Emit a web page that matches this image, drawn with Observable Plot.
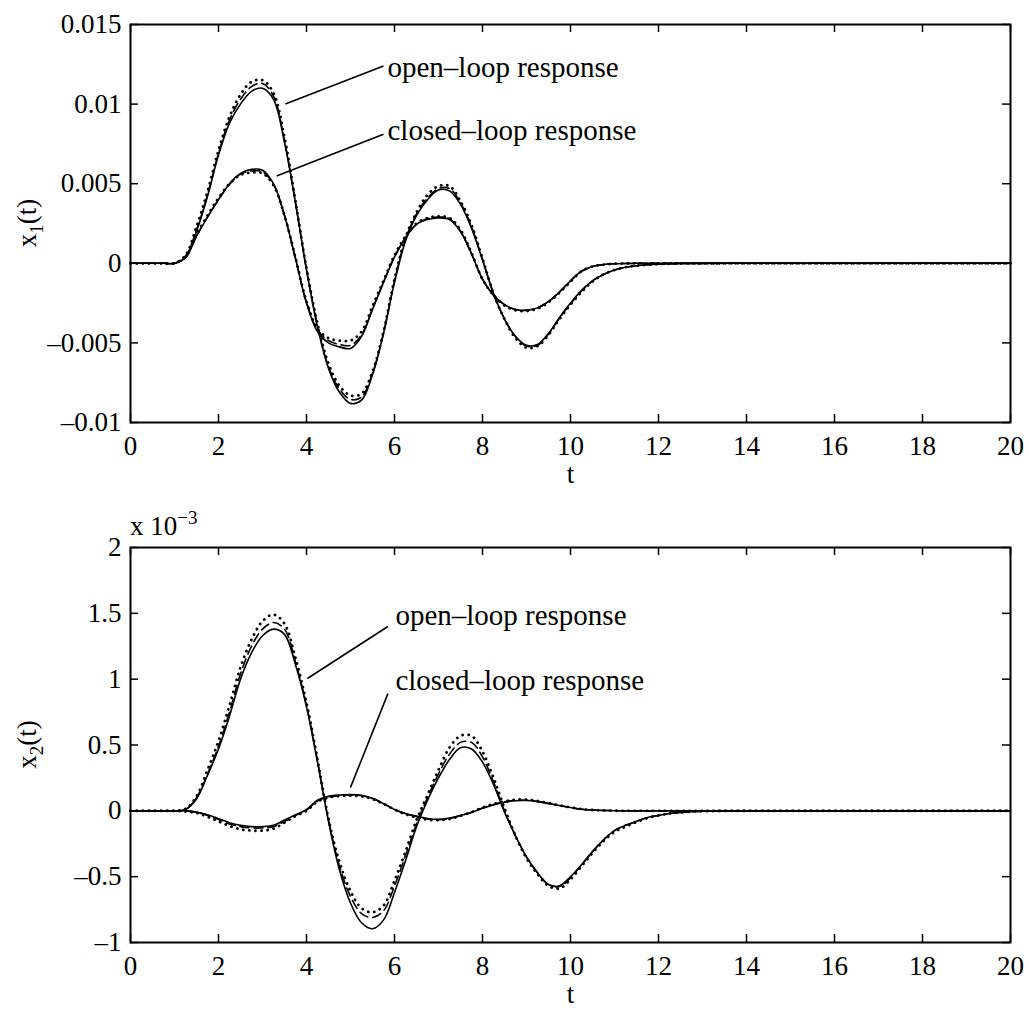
<!DOCTYPE html>
<html><head><meta charset="utf-8">
<script src="https://cdn.jsdelivr.net/npm/d3@7"></script>
<script src="https://cdn.jsdelivr.net/npm/@observablehq/plot@0.6"></script>
<style>
body{margin:0;background:#fff;}
#chart{width:1029px;height:1012px;position:relative;background:#fff;}
svg{display:block;}
</style></head><body><div id="chart"></div>
<script>
// ---------- DATA ----------
const tGrid = [0,0.25,0.5,0.75,1,1.25,1.5,1.75,2,2.25,
  2.5,2.75,3,3.25,3.5,3.75,4,4.25,4.5,4.75,
  5,5.25,5.5,5.75,6,6.25,6.5,6.75,7,7.25,
  7.5,7.75,8,8.25,8.5,8.75,9,9.25,9.5,9.75,
  10,10.25,10.5,10.75,11,11.25,11.5,11.75,12,12.25,
  12.5,12.75,13,14,15,16,17,18,19,20];

// x1(t), values in units of 1e-3
const x1OpenSolid = [0,0,0,0,0,0.4,2.0,4.2,6.8,8.8,
  10.0,10.8,11.0,10.3,7.6,3.8,-0.4,-4.0,-6.6,-8.1,
  -8.8,-8.6,-7.0,-4.4,-1.2,1.4,3.0,4.0,4.6,4.55,
  3.7,2.2,0.2,-1.9,-3.5,-4.6,-5.15,-5.1,-4.4,-3.4,
  -2.5,-1.7,-1.1,-0.7,-0.42,-0.25,-0.15,-0.09,-0.05,-0.03,
  -0.015,-0.008,-0.004,0,0,0,0,0,0,0];
const x1OpenDashed = [0,0,0,0,0,0.45,2.1,4.3,6.9,9.0,
  10.3,11.1,11.3,10.5,7.7,3.8,-0.4,-3.9,-6.5,-7.9,
  -8.55,-8.4,-6.9,-4.4,-1.1,1.5,3.1,4.1,4.7,4.7,
  3.8,2.3,0.25,-1.9,-3.5,-4.6,-5.2,-5.15,-4.45,-3.45,
  -2.55,-1.75,-1.1,-0.7,-0.42,-0.25,-0.15,-0.09,-0.05,-0.03,
  -0.015,-0.008,-0.004,0,0,0,0,0,0,0];
const x1OpenDotted = [0,0,0,0,0,0.5,2.3,4.5,7.1,9.2,
  10.6,11.4,11.5,10.7,7.9,3.9,-0.3,-3.8,-6.3,-7.7,
  -8.3,-8.2,-6.8,-4.3,-1.0,1.6,3.2,4.3,4.85,4.85,
  3.9,2.4,0.3,-1.9,-3.5,-4.7,-5.3,-5.2,-4.5,-3.5,
  -2.6,-1.8,-1.15,-0.7,-0.42,-0.25,-0.15,-0.09,-0.05,-0.03,
  -0.015,-0.008,-0.004,0,0,0,0,0,0,0];
const x1ClosedSolid = [0,0,0,0,0,0.35,1.7,2.9,4.0,5.0,
  5.65,5.9,5.85,5.0,3.0,0.3,-2.5,-4.3,-5.0,-5.25,
  -5.35,-4.6,-2.9,-1.2,0.4,1.6,2.45,2.75,2.85,2.75,
  2.0,0.6,-1.0,-2.0,-2.6,-2.9,-2.95,-2.8,-2.4,-1.8,
  -1.1,-0.5,-0.2,-0.08,-0.03,-0.01,0,0,0,0,
  0,0,0,0,0,0,0,0,0,0];
const x1ClosedDashed = [0,0,0,0,0,0.35,1.7,2.9,4.0,4.95,
  5.6,5.8,5.75,4.95,3.0,0.3,-2.45,-4.2,-4.85,-5.1,
  -5.15,-4.5,-2.85,-1.2,0.4,1.6,2.45,2.8,2.9,2.8,
  2.0,0.6,-1.0,-2.0,-2.6,-2.9,-2.95,-2.8,-2.4,-1.8,
  -1.1,-0.5,-0.2,-0.08,-0.03,-0.01,0,0,0,0,
  0,0,0,0,0,0,0,0,0,0];
const x1ClosedDotted = [0,0,0,0,0,0.4,1.8,3.0,4.1,5.0,
  5.55,5.7,5.65,4.9,3.0,0.35,-2.4,-4.1,-4.7,-4.85,
  -4.85,-4.3,-2.7,-1.1,0.5,1.7,2.5,2.85,2.95,2.85,
  2.1,0.65,-1.0,-2.0,-2.65,-2.95,-3.0,-2.85,-2.45,-1.85,
  -1.15,-0.5,-0.2,-0.08,-0.03,-0.01,0,0,0,0,
  0,0,0,0,0,0,0,0,0,0];

// x2(t), values in units of 1e-3 (axis shows "x 10^-3")
const x2OpenSolid = [0,0,0,0,0,0.01,0.09,0.27,0.47,0.72,
  1.0,1.2,1.33,1.38,1.34,1.11,0.79,0.37,-0.08,-0.45,
  -0.7,-0.85,-0.895,-0.83,-0.62,-0.38,-0.12,0.08,0.25,0.39,
  0.48,0.47,0.37,0.2,-0.01,-0.19,-0.35,-0.47,-0.56,-0.57,
  -0.5,-0.41,-0.31,-0.22,-0.15,-0.11,-0.08,-0.05,-0.035,-0.02,
  -0.012,-0.006,-0.003,0,0,0,0,0,0,0];
const x2OpenDashed = [0,0,0,0,0,0.01,0.1,0.28,0.49,0.75,
  1.04,1.25,1.38,1.43,1.38,1.13,0.8,0.38,-0.07,-0.42,
  -0.65,-0.78,-0.81,-0.76,-0.57,-0.34,-0.1,0.1,0.28,0.43,
  0.52,0.52,0.41,0.22,0.0,-0.19,-0.35,-0.47,-0.56,-0.575,
  -0.51,-0.41,-0.31,-0.22,-0.15,-0.11,-0.08,-0.05,-0.035,-0.02,
  -0.012,-0.006,-0.003,0,0,0,0,0,0,0];
const x2OpenDotted = [0,0,0,0,0,0.015,0.11,0.31,0.53,0.8,
  1.09,1.3,1.44,1.49,1.42,1.16,0.82,0.39,-0.06,-0.39,
  -0.61,-0.74,-0.77,-0.72,-0.53,-0.31,-0.07,0.12,0.31,0.48,
  0.57,0.57,0.45,0.25,0.02,-0.19,-0.36,-0.48,-0.57,-0.59,
  -0.52,-0.42,-0.32,-0.23,-0.16,-0.12,-0.085,-0.055,-0.035,-0.02,
  -0.012,-0.006,-0.003,0,0,0,0,0,0,0];
const x2ClosedSolid = [0,0,0,0,0,0,-0.01,-0.03,-0.06,-0.09,
  -0.11,-0.12,-0.12,-0.11,-0.07,-0.03,0.01,0.08,0.11,0.12,
  0.123,0.118,0.095,0.055,0.01,-0.02,-0.04,-0.058,-0.065,-0.055,
  -0.035,-0.012,0.02,0.045,0.065,0.077,0.078,0.07,0.055,0.04,
  0.025,0.012,0.006,0.003,0.001,0,0,0,0,0,
  0,0,0,0,0,0,0,0,0,0];
const x2ClosedDashed = [0,0,0,0,0,0,-0.01,-0.035,-0.065,-0.1,
  -0.12,-0.13,-0.13,-0.12,-0.08,-0.035,0.005,0.075,0.105,0.115,
  0.12,0.115,0.093,0.055,0.01,-0.022,-0.045,-0.062,-0.068,-0.058,
  -0.036,-0.01,0.022,0.048,0.068,0.08,0.08,0.072,0.057,0.04,
  0.025,0.012,0.006,0.003,0.001,0,0,0,0,0,
  0,0,0,0,0,0,0,0,0,0];
const x2ClosedDotted = [0,0,0,0,0,-0.005,-0.015,-0.045,-0.08,-0.115,
  -0.14,-0.15,-0.15,-0.135,-0.09,-0.04,0.0,0.07,0.1,0.112,
  0.115,0.11,0.09,0.052,0.01,-0.025,-0.05,-0.067,-0.072,-0.062,
  -0.038,-0.01,0.025,0.052,0.072,0.085,0.085,0.075,0.06,0.042,
  0.026,0.013,0.006,0.003,0.001,0,0,0,0,0,
  0,0,0,0,0,0,0,0,0,0];

const xTicks = [0,2,4,6,8,10,12,14,16,18,20];
const x1Ticks = [-10,-5,0,5,10,15];           // ×1e-3
const x1TickLabels = ["\u20130.01","\u20130.005","0","0.005","0.01","0.015"];
const x2Ticks = [-1,-0.5,0,0.5,1,1.5,2];       // ×1e-3
const x2TickLabels = ["\u20131","\u20130.5","0","0.5","1","1.5","2"];
const seriesNames = ["open\u2013loop response","closed\u2013loop response"];

// annotation anchors in data coordinates (t, value ×1e-3)
const x1Notes = [
  {label: seriesNames[0], tx: 5.84, ty: 12.3, lx1: 3.52, ly1: 10.0, lx2: 5.75, ly2: 12.4},
  {label: seriesNames[1], tx: 5.84, ty: 8.3,  lx1: 3.32, ly1: 5.48, lx2: 5.75, ly2: 8.1}
];
const x2Notes = [
  {label: seriesNames[0], tx: 6.02, ty: 1.48, lx1: 4.02, ly1: 1.005, lx2: 5.85, ly2: 1.40},
  {label: seriesNames[1], tx: 6.02, ty: 0.99, lx1: 5.0,  ly1: 0.178, lx2: 5.85, ly2: 0.89}
];

// ---------- DRAW ----------
const FONT = "'Liberation Serif','Times New Roman',Times,serif";
const TICKFS = 27, NOTEFS = 29;

function makePanel(cfg) {
  const {height, marginTop, marginBottom, yDomain, yTicks, yTickLabels, series, notes} = cfg;
  const width = 1029, marginLeft = 130, marginRight = 19;
  const plotW = width - marginLeft - marginRight;
  const plotH = height - marginTop - marginBottom;
  const rows = [];
  for (const s of series) s.values.forEach((v, i) => rows.push({t: tGrid[i], v, group: s.group, style: s.style}));
  const styleOpts = {
    solid: {strokeWidth: 1.6},
    dashed: {strokeWidth: 1.6, strokeDasharray: "9,5"},
    dotted: {strokeWidth: 2.8, strokeDasharray: "0.1,6", strokeLinecap: "round"}
  };
  const lineMarks = ["solid", "dashed", "dotted"].map(st =>
    Plot.line(rows.filter(r => r.style === st), {x: "t", y: "v", z: "group", stroke: "black", curve: "catmull-rom", ...styleOpts[st]}));
  return Plot.plot({
    width, height, marginLeft, marginRight, marginTop, marginBottom,
    x: {domain: [0, 20]}, y: {domain: yDomain},
    style: {fontFamily: FONT, background: "white", color: "black"},
    marks: [
      ...lineMarks,
      Plot.frame({strokeWidth: 2}),
      Plot.tickX(xTicks, {x: d => d, insetTop: plotH - 8, strokeWidth: 1.5}),
      Plot.tickX(xTicks, {x: d => d, insetBottom: plotH - 8, strokeWidth: 1.5}),
      Plot.tickY(yTicks, {y: d => d, insetRight: plotW - 8, strokeWidth: 1.5}),
      Plot.tickY(yTicks, {y: d => d, insetLeft: plotW - 8, strokeWidth: 1.5}),
      Plot.axisX(xTicks, {tickSize: 0, tickPadding: 13, fontSize: TICKFS, label: null, tickFormat: d => String(d)}),
      Plot.axisY(yTicks, {tickSize: 0, tickPadding: 9, fontSize: TICKFS, label: null, tickFormat: d => yTickLabels[yTicks.indexOf(d)]}),
      Plot.text(["t"], {text: d => d, frameAnchor: "bottom", dy: 60, fontSize: TICKFS}),
      Plot.link(notes, {x1: "lx1", y1: "ly1", x2: "lx2", y2: "ly2", strokeWidth: 1.6, stroke: "black"}),
      Plot.text(notes, {x: "tx", y: "ty", text: "label", textAnchor: "start", fontSize: NOTEFS})
    ]
  });
}

function addYLabel(svg, sub, cy) {
  const g = d3.select(svg).append("text")
    .attr("transform", `translate(36,${cy}) rotate(-90)`)
    .attr("text-anchor", "middle")
    .attr("font-family", FONT).attr("font-size", TICKFS).attr("fill", "black");
  g.append("tspan").text("x");
  g.append("tspan").attr("font-size", 19).attr("dy", 7).text(sub);
  g.append("tspan").attr("dy", -7).text("(t)");
}

const topSvg = makePanel({
  height: 490, marginTop: 24, marginBottom: 68,
  yDomain: [-10, 15], yTicks: x1Ticks, yTickLabels: x1TickLabels, notes: x1Notes,
  series: [
    {group: "open", style: "solid", values: x1OpenSolid},
    {group: "open", style: "dashed", values: x1OpenDashed},
    {group: "open", style: "dotted", values: x1OpenDotted},
    {group: "closed", style: "solid", values: x1ClosedSolid},
    {group: "closed", style: "dashed", values: x1ClosedDashed},
    {group: "closed", style: "dotted", values: x1ClosedDotted}
  ]
});
addYLabel(topSvg, "1", (24 + 422) / 2);

const bottomSvg = makePanel({
  height: 522, marginTop: 57, marginBottom: 70,
  yDomain: [-1, 2], yTicks: x2Ticks, yTickLabels: x2TickLabels, notes: x2Notes,
  series: [
    {group: "open", style: "solid", values: x2OpenSolid},
    {group: "open", style: "dashed", values: x2OpenDashed},
    {group: "open", style: "dotted", values: x2OpenDotted},
    {group: "closed", style: "solid", values: x2ClosedSolid},
    {group: "closed", style: "dashed", values: x2ClosedDashed},
    {group: "closed", style: "dotted", values: x2ClosedDotted}
  ]
});
addYLabel(bottomSvg, "2", (57 + 452) / 2);
// exponent label "x 10^-3"
{
  const e = d3.select(bottomSvg).append("text")
    .attr("x", 130).attr("y", 45).attr("text-anchor", "start")
    .attr("font-family", FONT).attr("font-size", TICKFS).attr("fill", "black");
  e.append("tspan").text("x 10");
  e.append("tspan").attr("font-size", 19).attr("dy", -11).text("\u22123");
}

const chart = document.getElementById("chart");
chart.appendChild(topSvg);
chart.appendChild(bottomSvg);
</script></body></html>
